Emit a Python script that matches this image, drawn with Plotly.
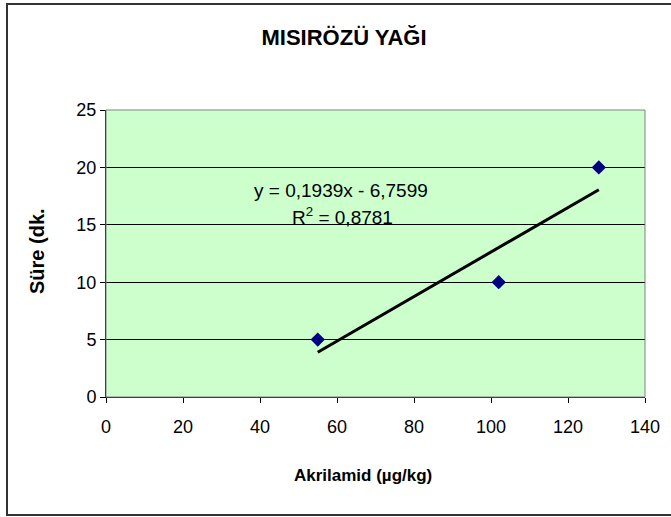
import plotly.graph_objects as go

# Measurements: acrylamide content vs. time
akrilamid = [55, 102, 128]
sure = [5, 10, 20]

# Linear trend (least-squares fit reported on the chart)
egim = 0.1939
kesisim = -6.7599
r_kare = 0.8781
trend_x = [min(akrilamid), max(akrilamid)]
trend_y = [egim * x + kesisim for x in trend_x]

x_ticks = [0, 20, 40, 60, 80, 100, 120, 140]
y_ticks = [0, 5, 10, 15, 20, 25]

W, H = 671, 517
L, R, T, B = 106, 26, 110, 120
pw, ph = W - L - R, H - T - B


def px_x(p):
    return (p - L) / pw


def px_y(p):
    return (H - B - p) / ph


font = "Liberation Sans, Arial, sans-serif"

fig = go.Figure()
fig.add_trace(go.Scatter(
    x=trend_x, y=trend_y, mode="lines",
    line=dict(color="black", width=3), showlegend=False, hoverinfo="skip"))
fig.add_trace(go.Scatter(
    x=akrilamid, y=sure, mode="markers",
    marker=dict(symbol="diamond", size=11, color="#000080"),
    showlegend=False))

fig.update_layout(
    width=W, height=H,
    margin=dict(l=L, r=R, t=T, b=B),
    paper_bgcolor="white",
    plot_bgcolor="#CCFFCC",
    font=dict(family=font, size=17, color="black"),
    title=dict(text="<b>MISIRÖZÜ YAĞI</b>", x=344 / W, xref="container",
               xanchor="center",
               y=1 - 37 / H, yref="container", yanchor="middle",
               font=dict(size=22, family=font)),
    xaxis=dict(range=[0, 140], tickvals=x_ticks, showgrid=False, zeroline=False,
               showline=True, linecolor="black", linewidth=1,
               ticks="outside", ticklen=5, tickcolor="black",
               ticklabelstandoff=8,
               tickfont=dict(size=18, family=font)),
    yaxis=dict(range=[0, 25], tickvals=y_ticks, showgrid=True, gridcolor="black",
               gridwidth=1, zeroline=False,
               showline=True, linecolor="black", linewidth=1,
               ticks="outside", ticklen=5, tickcolor="black",
               ticklabelstandoff=0,
               tickfont=dict(size=18, family=font)),
    shapes=[
        # plot-area frame
        dict(type="rect", xref="paper", yref="paper", x0=0, y0=0, x1=1, y1=1,
             line=dict(color="#808080", width=1), layer="above"),
        # outer chart border
        dict(type="rect", xref="paper", yref="paper",
             x0=px_x(7), y0=px_y(515), x1=px_x(680), y1=px_y(4),
             line=dict(color="#333333", width=2)),
    ],
    annotations=[
        # axis titles
        dict(text="<b>Akrilamid (µg/kg)</b>", xref="paper", yref="paper",
             x=px_x(363), y=px_y(475), xanchor="center", yanchor="middle",
             showarrow=False, font=dict(size=17, family=font)),
        dict(text="<b>Süre (dk.</b>", xref="paper", yref="paper",
             x=px_x(37), y=px_y(251), xanchor="center", yanchor="middle",
             textangle=-90, showarrow=False, font=dict(size=20, family=font)),
        # trendline equation and fit quality
        dict(text=f"y = {str(egim).replace('.', ',')}x - {str(-kesisim).replace('.', ',')}",
             xref="paper", yref="paper", x=px_x(341), y=px_y(190),
             xanchor="center", yanchor="middle",
             showarrow=False, font=dict(size=19, family=font)),
        dict(text=f"R<sup>2</sup> = {str(r_kare).replace('.', ',')}",
             xref="paper", yref="paper", x=px_x(342), y=px_y(216),
             xanchor="center", yanchor="middle",
             showarrow=False, font=dict(size=19, family=font)),
    ],
)

fig.write_html("out.html")
